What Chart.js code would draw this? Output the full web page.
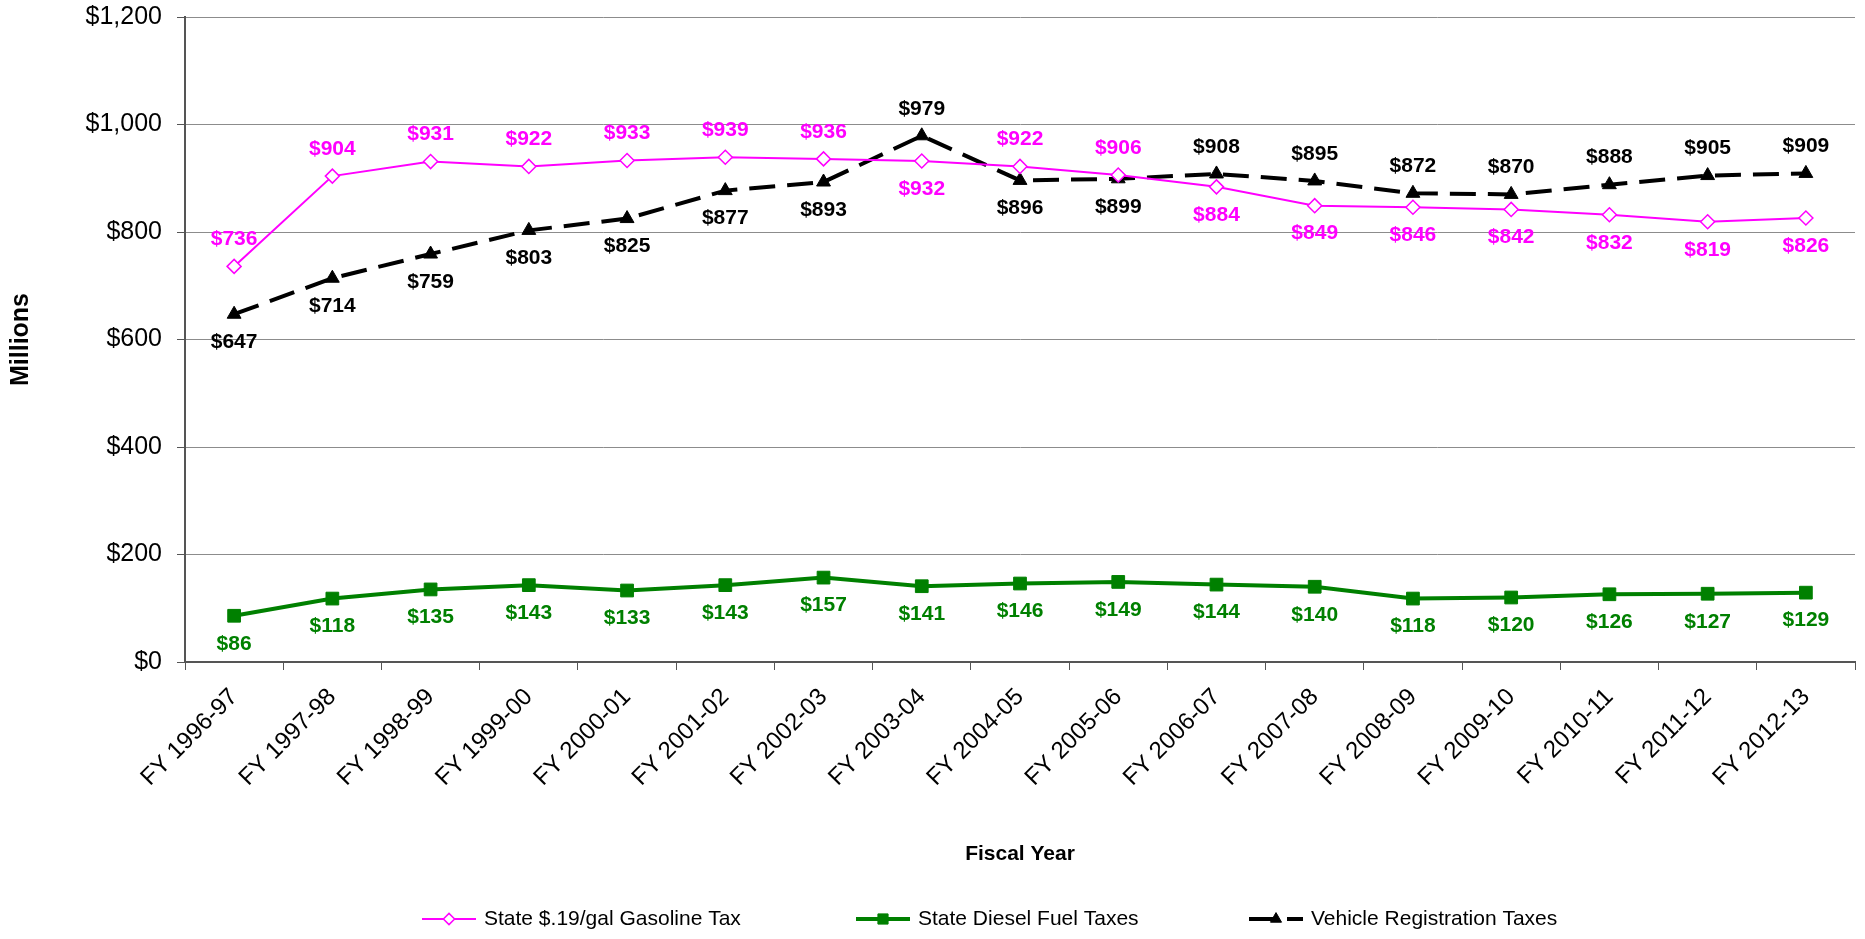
<!DOCTYPE html>
<html>
<head>
<meta charset="utf-8">
<title>Fuel and Registration Tax Revenue</title>
<script src="https://cdn.jsdelivr.net/npm/chart.js@4.4.0/dist/chart.umd.min.js"></script>
<style>
    html, body { margin: 0; padding: 0; background: #fff; }
    #wrap { width: 1865px; height: 939px; }
</style>
</head>
<body>
<div id="wrap"><canvas id="revenueChart" width="1865" height="939"></canvas></div>
<script>
// Data (millions of dollars)
const fiscalYears = [
    'FY 1996-97', 'FY 1997-98', 'FY 1998-99', 'FY 1999-00', 'FY 2000-01', 'FY 2001-02',
    'FY 2002-03', 'FY 2003-04', 'FY 2004-05', 'FY 2005-06', 'FY 2006-07', 'FY 2007-08',
    'FY 2008-09', 'FY 2009-10', 'FY 2010-11', 'FY 2011-12', 'FY 2012-13'
];
const gasolineTax = [736, 904, 931, 922, 933, 939, 936, 932, 922, 906, 884, 849, 846, 842, 832, 819, 826];
const dieselTax = [86, 118, 135, 143, 133, 143, 157, 141, 146, 149, 144, 140, 118, 120, 126, 127, 129];
const registrationTax = [647, 714, 759, 803, 825, 877, 893, 979, 896, 899, 908, 895, 872, 870, 888, 905, 909];
const yTicks = [0, 200, 400, 600, 800, 1000, 1200];

// which side of the point each value label goes (U = above, D = below)
const gasolineLabelSide = 'UUUUUUUDUUDDDDDDD';
const dieselLabelSide = 'DDDDDDDDDDDDDDDDD';
const registrationLabelSide = 'DDDDDDDUDDUUUUUUU';

const FONT = '"Liberation Sans", Arial, sans-serif';
const money = v => '$' + Number(v).toLocaleString('en-US');

// Value labels next to every point
const valueLabels = {
    id: 'valueLabels',
    afterDatasetsDraw(chart) {
        const ctx = chart.ctx;
        ctx.save();
        ctx.font = 'bold 21px ' + FONT;
        ctx.textAlign = 'center';
        ctx.textBaseline = 'middle';
        chart.data.datasets.forEach((ds, i) => {
            const meta = chart.getDatasetMeta(i);
            ctx.fillStyle = ds.labelColor;
            meta.data.forEach((pt, j) => {
                const dy = ds.labelSide[j] === 'U' ? -27 : 28;
                ctx.fillText(money(ds.data[j]), pt.x, pt.y + dy);
            });
        });
        ctx.restore();
    }
};

// Excel style legend: line sample with marker in the middle
const lineLegend = {
    id: 'lineLegend',
    afterDraw(chart) {
        const ctx = chart.ctx;
        const starts = [422, 856, 1249];
        const y = 919;
        const len = 54;
        ctx.save();
        chart.data.datasets.forEach((ds, i) => {
            const x0 = starts[i];
            ctx.strokeStyle = ds.borderColor;
            ctx.lineWidth = ds.borderWidth;
            ctx.setLineDash(ds.borderDash || []);
            ctx.beginPath();
            ctx.moveTo(x0, y);
            ctx.lineTo(x0 + len, y);
            ctx.stroke();
            ctx.setLineDash([]);
            ctx.fillStyle = ds.pointBackgroundColor;
            ctx.strokeStyle = ds.pointBorderColor;
            ctx.lineWidth = ds.pointBorderWidth;
            Chart.helpers.drawPoint(ctx, {
                pointStyle: ds.pointStyle,
                radius: ds.pointRadius * 0.8,
                rotation: 0,
                borderWidth: ds.pointBorderWidth
            }, x0 + len / 2, y);
            ctx.fillStyle = '#000';
            ctx.font = '21px ' + FONT;
            ctx.textAlign = 'left';
            ctx.textBaseline = 'middle';
            ctx.fillText(ds.label, x0 + len + 8, y);
        });
        ctx.restore();
    }
};

const ctx = document.getElementById('revenueChart').getContext('2d');
new Chart(ctx, {
    type: 'line',
    data: {
        labels: fiscalYears,
        datasets: [
            {
                label: 'State $.19/gal Gasoline Tax',
                data: gasolineTax,
                labelSide: gasolineLabelSide,
                labelColor: '#FF00FF',
                borderColor: '#FF00FF',
                borderWidth: 2,
                pointStyle: 'rectRot',
                pointRadius: 7,
                pointBackgroundColor: '#ffffff',
                pointBorderColor: '#FF00FF',
                pointBorderWidth: 1.5
            },
            {
                label: 'State Diesel Fuel Taxes',
                data: dieselTax,
                labelSide: dieselLabelSide,
                labelColor: '#008000',
                borderColor: '#008000',
                borderWidth: 4,
                pointStyle: 'rect',
                pointRadius: 9,
                pointBackgroundColor: '#008000',
                pointBorderColor: '#008000',
                pointBorderWidth: 1
            },
            {
                label: 'Vehicle Registration Taxes',
                data: registrationTax,
                labelSide: registrationLabelSide,
                labelColor: '#000000',
                borderColor: '#000000',
                borderWidth: 4,
                borderDash: [26, 12],
                pointStyle: 'triangle',
                pointRadius: 8,
                pointBackgroundColor: '#000000',
                pointBorderColor: '#000000',
                pointBorderWidth: 1
            }
        ]
    },
    options: {
        responsive: false,
        animation: false,
        elements: { line: { tension: 0 } },
        layout: { padding: { top: 17, right: 0, bottom: 0, left: 0 } },
        scales: {
            x: {
                type: 'category',
                offset: true,
                afterFit: s => {
                    s.height = 277;
                    s.paddingLeft = 0;
                    s.paddingRight = 0;
                },
                grid: {
                    offset: true,
                    drawOnChartArea: false,
                    tickLength: 8,
                    color: '#555'
                },
                border: { color: '#555', width: 2 },
                ticks: {
                    autoSkip: false,
                    minRotation: 45,
                    maxRotation: 45,
                    padding: 13,
                    color: '#000',
                    font: { family: FONT, size: 24 }
                },
                title: {
                    display: true,
                    text: 'Fiscal Year',
                    color: '#000',
                    font: { family: FONT, size: 21, weight: 'bold' },
                    padding: { top: 0, bottom: 72 }
                }
            },
            y: {
                min: 0,
                max: 1200,
                afterFit: s => {
                    s.width = 185;
                    s.paddingTop = 0;
                    s.paddingBottom = 0;
                },
                afterBuildTicks: s => { s.ticks = yTicks.map(v => ({ value: v })); },
                grid: {
                    color: '#8c8c8c',
                    lineWidth: 1,
                    tickLength: 8,
                    tickColor: '#555'
                },
                border: { color: '#555', width: 2 },
                ticks: {
                    padding: 15,
                    color: '#000',
                    font: { family: FONT, size: 25 },
                    callback: v => money(v)
                },
                title: {
                    display: true,
                    text: 'Millions',
                    color: '#000',
                    font: { family: FONT, size: 25, weight: 'bold' },
                    padding: { top: 6, bottom: 0 }
                }
            }
        },
        plugins: {
            legend: { display: false },
            tooltip: { enabled: false }
        }
    },
    plugins: [valueLabels, lineLegend]
});
</script>
</body>
</html>
